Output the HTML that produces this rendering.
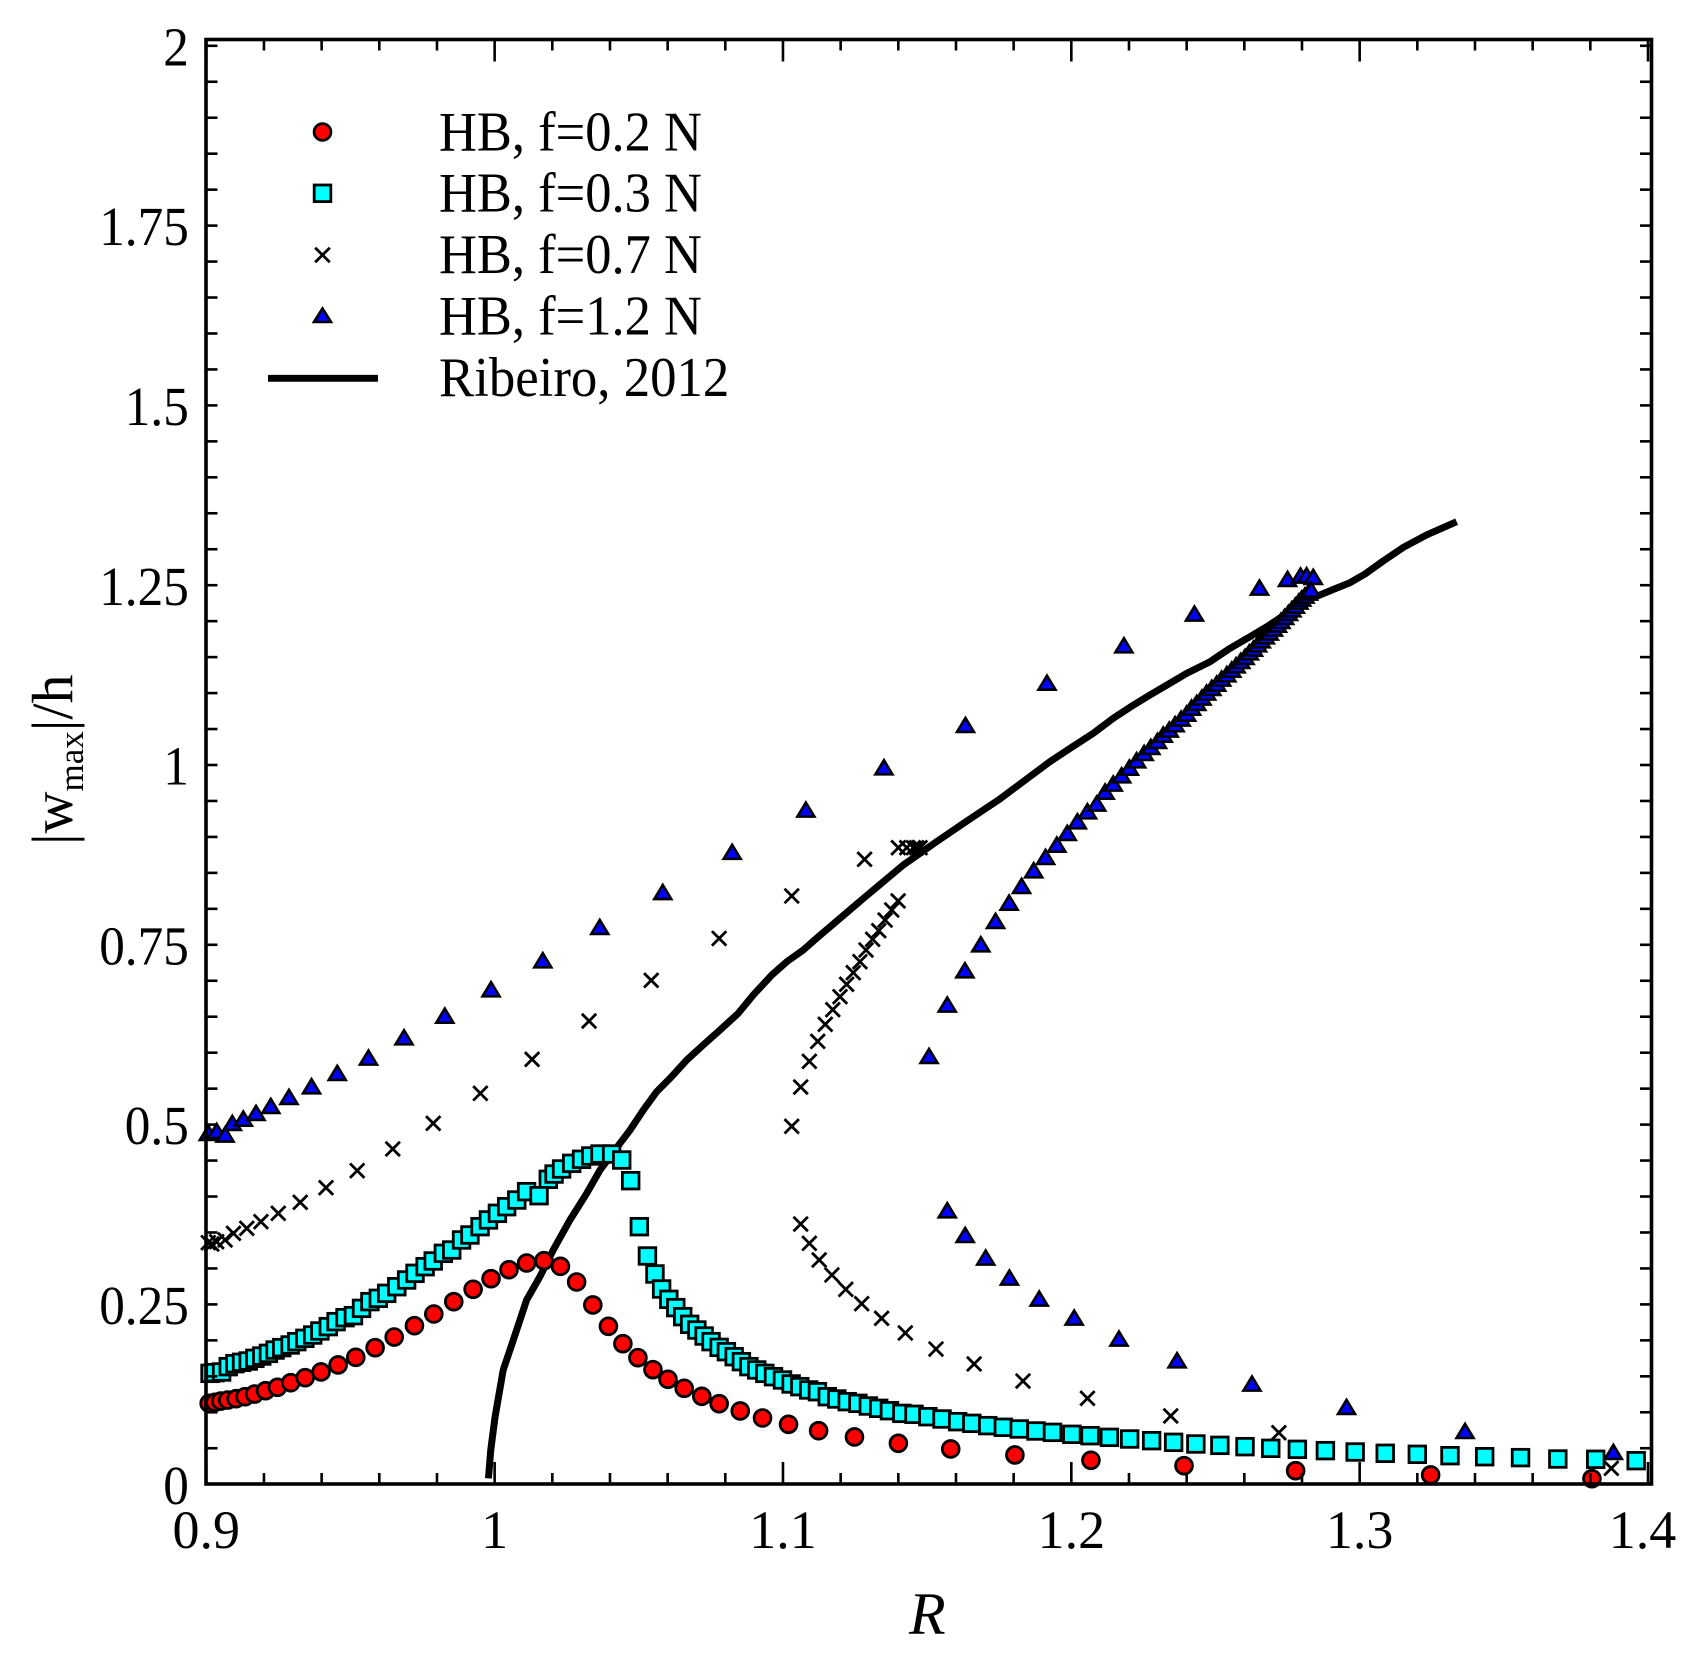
<!DOCTYPE html>
<html lang="en">
<head>
<meta charset="utf-8">
<title>|w_max|/h versus R</title>
<style>
html,body{margin:0;padding:0;background:#fff;}
svg{display:block;}
text{font-family:"Liberation Serif","DejaVu Serif",serif;fill:#000;}
</style>
</head>
<body>
<svg id="chart" xmlns="http://www.w3.org/2000/svg" width="1700" height="1673" viewBox="0 0 1700 1673">
  <rect x="0" y="0" width="1700" height="1673" fill="#ffffff"/>
  <g id="line-layer"></g>
  <g id="marker-layer"></g>
  <g id="axis-layer"></g>
  <text x="909" y="1634" font-size="60" font-style="italic">R</text>
  <text transform="translate(72,845) rotate(-90)" font-size="58">|w<tspan font-size="35" dy="11">max</tspan><tspan dy="-11">|/h</tspan></text>
  <g>
    <circle cx="322.5" cy="132" r="8.4" fill="#ff0000" stroke="#000" stroke-width="2.8"/>
    <rect x="314.2" y="185" width="16.6" height="16.6" fill="#00ffff" stroke="#000" stroke-width="2.8"/>
    <path d="M315.2 247.7L329.8 262.3M329.8 247.7L315.2 262.3" stroke="#000" stroke-width="2.8" fill="none"/>
    <polygon points="322.5,308.5 331,322 314,322" fill="#0000ff" stroke="#000" stroke-width="2.6"/>
    <line x1="268" y1="378.3" x2="378" y2="378.3" stroke="#000" stroke-width="6.8"/>
    <text transform="translate(439,150.4) scale(1,1.07)" font-size="52.5">HB, f=0.2 N</text>
    <text transform="translate(439,211.4) scale(1,1.07)" font-size="52.5">HB, f=0.3 N</text>
    <text transform="translate(439,273.1) scale(1,1.07)" font-size="52.5">HB, f=0.7 N</text>
    <text transform="translate(439,334.7) scale(1,1.07)" font-size="52.5">HB, f=1.2 N</text>
    <text transform="translate(439,396.1) scale(1,1.07)" font-size="52.8">Ribeiro, 2012</text>
  </g>
</svg>
<script>
// Tick labels
var xTickLabels = ['0.9', '1', '1.1', '1.2', '1.3', '1.4'];
var xTickValues = [0.9, 1.0, 1.1, 1.2, 1.3, 1.4];
var yTickLabels = ['0', '0.25', '0.5', '0.75', '1', '1.25', '1.5', '1.75', '2'];
var yTickValues = [0, 0.25, 0.5, 0.75, 1, 1.25, 1.5, 1.75, 2];

// HB, f=0.2 N
var f02R = [0.9011,0.9031,0.9051,0.9075,0.9104,0.9135,0.9168,0.9206,0.9247,0.9293,0.9343,0.9398,0.9457,0.9518,0.9585,0.9651,0.9721,0.9788,0.9857,0.9924,0.9986,1.0048,1.0109,1.0169,1.0226,1.0282,1.0338,1.0392,1.0442,1.0494,1.0546,1.0598,1.0654,1.0715,1.0775,1.0848,1.0925,1.1015,1.1119,1.1243,1.1395,1.1576,1.1798,1.2061,1.2383,1.2769,1.3236,1.3794];
var f02W = [0.1117,0.1131,0.1149,0.1163,0.1181,0.1209,0.1246,0.1292,0.1339,0.1403,0.1472,0.1551,0.1648,0.1754,0.1887,0.2035,0.2192,0.2354,0.2524,0.2696,0.2843,0.2967,0.3060,0.3092,0.3014,0.2797,0.2479,0.2184,0.1943,0.1749,0.1583,0.1450,0.1325,0.1214,0.1112,0.1011,0.0914,0.0827,0.0738,0.0651,0.0564,0.0485,0.0402,0.0328,0.0253,0.0184,0.0125,0.0073];

// HB, f=0.3 N
var f03R = [0.9014,0.9031,0.9054,0.9077,0.9100,0.9123,0.9146,0.9169,0.9193,0.9216,0.9239,0.9262,0.9291,0.9314,0.9342,0.9369,0.9394,0.9423,0.9450,0.9481,0.9510,0.9538,0.9567,0.9596,0.9625,0.9660,0.9694,0.9723,0.9758,0.9786,0.9821,0.9850,0.9884,0.9913,0.9948,0.9977,1.0008,1.0040,1.0075,1.0109,1.0184,1.0204,1.0230,1.0265,1.0299,1.0331,1.0363,1.0403,1.0438,1.0469,1.0499,1.0527,1.0553,1.0576,1.0601,1.0625,1.0649,1.0673,1.0698,1.0723,1.0747,1.0775,1.0800,1.0827,1.0852,1.0878,1.0905,1.0933,1.0963,1.0994,1.1024,1.1054,1.1085,1.1115,1.1149,1.1182,1.1218,1.1255,1.1291,1.1327,1.1364,1.1407,1.1449,1.1497,1.1546,1.1600,1.1649,1.1704,1.1758,1.1813,1.1871,1.1928,1.1995,1.2058,1.2125,1.2195,1.2271,1.2347,1.2424,1.2507,1.2594,1.2683,1.2775,1.2872,1.2975,1.3079,1.3190,1.3303,1.3423,1.3547,1.3676,1.3807,1.3947,1.0152];
var f03W = [0.1532,0.1542,0.1551,0.1625,0.1666,0.1685,0.1703,0.1740,0.1772,0.1809,0.1855,0.1888,0.1925,0.1971,0.2017,0.2063,0.2119,0.2179,0.2248,0.2303,0.2331,0.2432,0.2525,0.2571,0.2640,0.2732,0.2825,0.2917,0.3009,0.3088,0.3194,0.3240,0.3379,0.3448,0.3563,0.3656,0.3748,0.3840,0.3932,0.4048,0.4219,0.4292,0.4362,0.4440,0.4496,0.4542,0.4569,0.4569,0.4486,0.4200,0.3563,0.3157,0.2908,0.2700,0.2557,0.2442,0.2317,0.2211,0.2132,0.2049,0.1971,0.1892,0.1832,0.1763,0.1694,0.1625,0.1579,0.1532,0.1486,0.1440,0.1385,0.1348,0.1302,0.1278,0.1209,0.1177,0.1140,0.1117,0.1080,0.1048,0.1015,0.0978,0.0965,0.0932,0.0900,0.0863,0.0840,0.0808,0.0785,0.0762,0.0734,0.0715,0.0688,0.0669,0.0646,0.0623,0.0600,0.0577,0.0554,0.0535,0.0517,0.0494,0.0480,0.0462,0.0443,0.0425,0.0411,0.0392,0.0378,0.0365,0.0346,0.0342,0.0323,0.3992];

// HB, f=0.7 N
var f07R = [0.9008,0.9020,0.9037,0.9066,0.9095,0.9141,0.9190,0.9250,0.9326,0.9415,0.9523,0.9646,0.9786,0.9949,1.0128,1.0325,1.0540,1.0775,1.1026,1.1278,1.1395,1.1424,1.1447,1.1458,1.1470,1.1394,1.1372,1.1349,1.1327,1.1306,1.1283,1.1262,1.1239,1.1216,1.1193,1.1168,1.1142,1.1116,1.1087,1.1057,1.1026,1.1057,1.1087,1.1121,1.1165,1.1213,1.1268,1.1337,1.1419,1.1525,1.1657,1.1826,1.2049,1.2337,1.2711,1.3861];
var f07W = [0.3342,0.3323,0.3355,0.3379,0.3471,0.3540,0.3632,0.3748,0.3900,0.4103,0.4339,0.4639,0.4994,0.5409,0.5880,0.6411,0.6974,0.7555,0.8142,0.8650,0.8811,0.8811,0.8811,0.8811,0.8811,0.8073,0.7948,0.7809,0.7662,0.7542,0.7394,0.7233,0.7080,0.6919,0.6748,0.6568,0.6365,0.6129,0.5852,0.5497,0.4953,0.3600,0.3332,0.3102,0.2894,0.2695,0.2497,0.2294,0.2091,0.1869,0.1662,0.1426,0.1186,0.0942,0.0711,0.0217];

// HB, f=1.2 N
var f12R = [0.9008,0.9037,0.9066,0.9091,0.9129,0.9173,0.9224,0.9287,0.9365,0.9454,0.9562,0.9685,0.9826,0.9986,1.0165,1.0362,1.0580,1.0820,1.1075,1.1345,1.1627,1.1909,1.2175,1.2419,1.2644,1.2741,1.2786,1.2807,1.2830,1.1501,1.1564,1.1625,1.1680,1.1731,1.1778,1.1821,1.1863,1.1904,1.1943,1.1979,1.2014,1.2049,1.2081,1.2110,1.2138,1.2167,1.2194,1.2219,1.2245,1.2268,1.2291,1.2311,1.2332,1.2352,1.2373,1.2392,1.2409,1.2427,1.2445,1.2461,1.2479,1.2496,1.2513,1.2531,1.2548,1.2563,1.2579,1.2594,1.2609,1.2623,1.2637,1.2650,1.2664,1.2678,1.2692,1.2706,1.2718,1.2731,1.2744,1.2756,1.2768,1.2780,1.2790,1.2801,1.2813,1.2822,1.1564,1.1626,1.1697,1.1779,1.1882,1.2003,1.2158,1.2359,1.2618,1.2945,1.3355,1.3868];
var f12W = [0.4865,0.4892,0.4842,0.5003,0.5063,0.5142,0.5239,0.5363,0.5511,0.5696,0.5908,0.6189,0.6489,0.6854,0.7256,0.7717,0.8201,0.8757,0.9342,0.9928,1.0514,1.1099,1.1617,1.2056,1.2416,1.2536,1.2582,1.2587,1.2564,0.5931,0.6642,0.7117,0.7477,0.7800,0.8054,0.8285,0.8502,0.8686,0.8857,0.9019,0.9180,0.9319,0.9425,0.9591,0.9702,0.9817,0.9923,1.0025,1.0126,1.0210,1.0293,1.0380,1.0450,1.0524,1.0602,1.0671,1.0754,1.0819,1.0893,1.0962,1.1027,1.1086,1.1156,1.1216,1.1280,1.1340,1.1400,1.1456,1.1520,1.1571,1.1631,1.1686,1.1742,1.1793,1.1848,1.1903,1.1954,1.2010,1.2065,1.2116,1.2166,1.2222,1.2264,1.2305,1.2347,1.2388,0.3794,0.3452,0.3139,0.2862,0.2571,0.2308,0.2017,0.1717,0.1394,0.1071,0.0738,0.0448];

// Ribeiro, 2012
var ribeiroR = [0.9977,0.9985,1.0000,1.0028,1.0063,1.0109,1.0155,1.0201,1.0259,1.0317,1.0363,1.0432,1.0467,1.0513,1.0559,1.0605,1.0663,1.0720,1.0778,1.0841,1.0893,1.0957,1.1009,1.1066,1.1112,1.1193,1.1274,1.1343,1.1412,1.1470,1.1527,1.1620,1.1689,1.1741,1.1919,1.1989,1.2069,1.2138,1.2196,1.2265,1.2334,1.2392,1.2473,1.2542,1.2611,1.2669,1.2726,1.2796,1.2853,1.2900,1.2957,1.3009,1.3072,1.3142,1.3222,1.3326];
var ribeiroW = [0.0078,0.0471,0.0932,0.1578,0.1994,0.2548,0.2871,0.3240,0.3656,0.4025,0.4348,0.4717,0.4902,0.5179,0.5432,0.5617,0.5871,0.6079,0.6286,0.6517,0.6771,0.7048,0.7232,0.7394,0.7556,0.7833,0.8109,0.8340,0.8571,0.8733,0.8894,0.9148,0.9333,0.9471,1.0001,1.0187,1.0394,1.0602,1.0755,1.0925,1.1087,1.1225,1.1386,1.1571,1.1732,1.1870,1.2019,1.2218,1.2310,1.2388,1.2480,1.2600,1.2780,1.2970,1.3141,1.3325];

var SVGNS = 'http://www.w3.org/2000/svg';
var lineLayer = document.getElementById('line-layer');
var markerLayer = document.getElementById('marker-layer');
var axisLayer = document.getElementById('axis-layer');

// Axis functions for marks
function xScale(r) { return 206 + (r - 0.9) * 2891; }
function yScale(w) { return 1484 - w * 722.2; }
// The printed tick ruler sits slightly inside the frame
function xTickPos(r) { return 206.3 + (r - 0.9) * 2883.4; }
function yTickPos(w) { return 1484.2 - w * 719.2; }

function make(tag, attrs) {
  var el = document.createElementNS(SVGNS, tag);
  for (var k in attrs) { el.setAttribute(k, attrs[k]); }
  return el;
}

function drawCircle(r, w) {
  var el = make('circle', {cx: xScale(r), cy: yScale(w), r: 8.4, fill: '#ff0000', stroke: '#000', 'stroke-width': 2.8});
  
  
  markerLayer.appendChild(el);
}
function drawSquare(r, w) {
  var el = make('rect', {x: xScale(r) - 8.3, y: yScale(w) - 8.3, width: 16.6, height: 16.6, fill: '#00ffff', stroke: '#000', 'stroke-width': 2.8});
  
  
  markerLayer.appendChild(el);
}
function drawCross(r, w) {
  var cx = xScale(r), cy = yScale(w), s = 7.2;
  var el = make('path', {d: 'M' + (cx - s) + ' ' + (cy - s) + 'L' + (cx + s) + ' ' + (cy + s) + 'M' + (cx + s) + ' ' + (cy - s) + 'L' + (cx - s) + ' ' + (cy + s), fill: 'none', stroke: '#000', 'stroke-width': 2.8});
  
  
  markerLayer.appendChild(el);
}
function drawTriangle(r, w) {
  var cx = xScale(r), cy = yScale(w);
  var el = make('polygon', {points: cx + ',' + (cy - 6.8) + ' ' + (cx + 8.5) + ',' + (cy + 7.3) + ' ' + (cx - 8.5) + ',' + (cy + 7.3), fill: '#0000ff', stroke: '#000', 'stroke-width': 2.6});
  
  
  markerLayer.appendChild(el);
}

// Ribeiro curve
var linePts = [];
for (var li = 0; li < ribeiroR.length; li++) {
  linePts.push(xScale(ribeiroR[li]) + ',' + yScale(ribeiroW[li]));
}
var ribeiroLine = make('polyline', {points: linePts.join(' '), fill: 'none', stroke: '#000', 'stroke-width': 7, 'stroke-linejoin': 'round'});


lineLayer.appendChild(ribeiroLine);

// Markers
for (var a = 0; a < f12R.length; a++) { drawTriangle(f12R[a], f12W[a]); }
for (var b = 0; b < f07R.length; b++) { drawCross(f07R[b], f07W[b]); }
for (var c = 0; c < f02R.length; c++) { drawCircle(f02R[c], f02W[c]); }
for (var d = 0; d < f03R.length; d++) { drawSquare(f03R[d], f03W[d]); }

// Frame
var frame = make('rect', {x: 206, y: 39.5, width: 1445.5, height: 1444.5, fill: 'none', stroke: '#000', 'stroke-width': 3.6});


axisLayer.appendChild(frame);

function tick(x1, y1, x2, y2, name) {
  var el = make('line', {x1: x1, y1: y1, x2: x2, y2: y2, stroke: '#000', 'stroke-width': 2.6});
  
  
  axisLayer.appendChild(el);
}

// x ticks: every 0.02, major every 0.1
for (var i = 0; i <= 25; i++) {
  var rv = 0.9 + i * 0.02;
  var tx = xTickPos(rv);
  var len = (i % 5 === 0) ? 22 : 11;
  tick(tx, 1484, tx, 1484 - len, 'x-tick-bottom');
  tick(tx, 39.5, tx, 39.5 + len, 'x-tick-top');
}
// y ticks: every 0.05
for (var j = 0; j <= 40; j++) {
  var ty = yTickPos(j * 0.05);
  tick(206, ty, 217.5, ty, 'y-tick-left');
  tick(1651.5, ty, 1640, ty, 'y-tick-right');
}

// Tick labels
for (var m = 0; m < xTickValues.length; m++) {
  var xl = make('text', {x: Math.min(xTickPos(xTickValues[m]), 1642.5), y: 1548, 'font-size': 54, 'text-anchor': 'middle'});
  
  
  xl.textContent = xTickLabels[m];
  axisLayer.appendChild(xl);
}
for (var n = 0; n < yTickValues.length; n++) {
  var yl = make('text', {transform: 'translate(188.8,' + (yTickPos(yTickValues[n]) + 19.6) + ') scale(1,1.07)', 'font-size': 51.2, 'text-anchor': 'end'});
  
  
  yl.textContent = yTickLabels[n];
  axisLayer.appendChild(yl);
}
</script>
</body>
</html>
